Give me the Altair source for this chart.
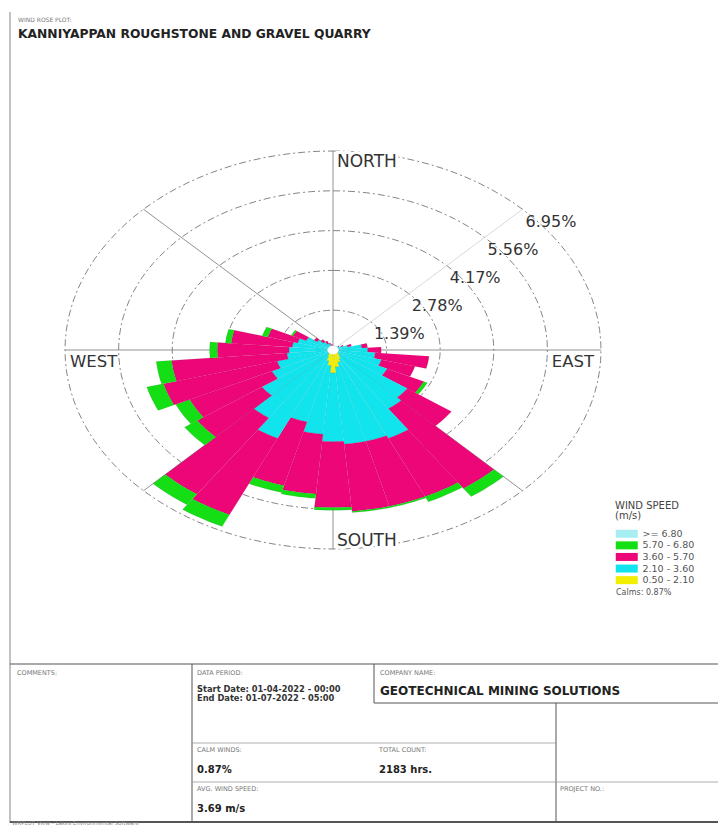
import altair as alt
import pandas as pd

# ---------------- data (percent of time) ----------------
directions = [0, 10, 20, 30, 40, 50, 60, 70, 80, 90, 100, 110, 120, 130, 140, 150, 160, 170,
              180, 190, 200, 210, 220, 230, 240, 250, 260, 270, 280, 290, 300, 310, 320, 330, 340, 350]

speed_classes = [">= 6.80", "5.70 - 6.80", "3.60 - 5.70", "2.10 - 3.60", "0.50 - 2.10"]

freq_050_210 = [0.03, 0.03, 0.03, 0.03, 0.04, 0.05, 0.05, 0.06, 0.08, 0.10,
                0.12, 0.12, 0.15, 0.18, 0.25, 0.35, 0.45, 0.60, 0.80, 0.55,
                0.40, 0.25, 0.18, 0.12, 0.10, 0.08, 0.07, 0.06, 0.05, 0.05,
                0.04, 0.04, 0.03, 0.03, 0.03, 0.03]
freq_210_360 = [0.12, 0.11, 0.09, 0.12, 0.11, 0.13, 0.20, 0.34, 0.67, 0.80,
                0.98, 1.18, 1.40, 2.17, 2.25, 3.05, 2.85, 2.70, 2.40, 2.40,
                2.20, 3.15, 2.72, 2.13, 1.65, 1.42, 1.13, 1.08, 1.01, 0.90,
                0.73, 0.46, 0.32, 0.22, 0.17, 0.12]
freq_360_570 = [0.00, 0.01, 0.00, 0.00, 0.00, 0.02, 0.05, 0.10, 0.15, 0.35,
                1.40, 0.90, 1.05, 1.40, 3.40, 2.25, 2.35, 2.35, 2.30, 2.10,
                2.30, 2.95, 3.25, 2.05, 2.35, 3.05, 3.00, 1.86, 1.59, 0.80,
                0.38, 0.10, 0.10, 0.10, 0.05, 0.05]
freq_570_680 = [0.00, 0.00, 0.00, 0.00, 0.00, 0.00, 0.00, 0.00, 0.00, 0.00,
                0.00, 0.00, 0.10, 0.00, 0.35, 0.20, 0.05, 0.05, 0.10, 0.15,
                0.25, 0.45, 0.45, 0.40, 0.40, 0.45, 0.40, 0.20, 0.15, 0.15,
                0.05, 0.00, 0.00, 0.00, 0.00, 0.00]
freq_680_up = [0.00, 0.00, 0.00, 0.00, 0.00, 0.00, 0.00, 0.00, 0.00, 0.00,
               0.00, 0.00, 0.00, 0.00, 0.00, 0.00, 0.00, 0.00, 0.00, 0.00,
               0.00, 0.00, 0.00, 0.00, 0.00, 0.00, 0.00, 0.00, 0.00, 0.00,
               0.00, 0.00, 0.00, 0.00, 0.00, 0.00]

ring_values = [1.39, 2.78, 4.17, 5.56, 6.95]
ring_labels = ["1.39%", "2.78%", "4.17%", "5.56%", "6.95%"]
compass_labels = ["NORTH", "EAST", "SOUTH", "WEST"]
compass_angles = [0, 90, 180, 270]
spoke_angles = [0, 45, 90, 135, 180, 225, 270, 315]

# ---------------- style / layout ----------------
FONT = "DejaVu Sans"
W, H = 710, 811
CX, CY = 333 - 8, 350 - 8
KX = 268 / 6.95
KY = 199 / 6.95
SECTOR = 10
K = 6
HOLE = 0.14
speed_colors = ["#A6EEF2", "#14DF14", "#EC0677", "#12E4EE", "#F2EE00"]

xs = alt.Scale(domain=[-CX / KX, (W - CX) / KX], nice=False, zero=False)
ys = alt.Scale(domain=[-(H - CY) / KY, CY / KY], nice=False, zero=False)
X = alt.X("px:Q", scale=xs, axis=None)
Y = alt.Y("py:Q", scale=ys, axis=None)

# ---------------- geometry tables (built from the data) ----------------
stack = [("0.50 - 2.10", freq_050_210), ("2.10 - 3.60", freq_210_360),
         ("3.60 - 5.70", freq_360_570), ("5.70 - 6.80", freq_570_680),
         (">= 6.80", freq_680_up)]
seg_rows = []
for i, d in enumerate(directions):
    base = 0.0
    for cls, fr in stack:
        f = fr[i]
        if f > 0:
            for vi in range(2 * K + 2):
                seg_rows.append({"seg": f"{d}|{cls}", "dir": d, "speed": cls,
                                 "r0": base, "r1": base + f, "vi": vi})
            base += f
bars_df = pd.DataFrame(seg_rows)

ring_df = pd.DataFrame([{"ring": v, "step": s} for v in ring_values for s in range(121)])
hole_df = pd.DataFrame([{"ring": HOLE, "step": s} for s in range(61)])
spoke_df = pd.DataFrame([{"angle": a, "r": r} for a in spoke_angles for r in (0.0, ring_values[-1])])
compass_df = pd.DataFrame({"label": compass_labels, "angle": compass_angles, "r": ring_values[-1]})
rlab_df = pd.DataFrame({"ring": ring_values, "label": ring_labels})


def polar(chart, r_field, a_expr):
    return chart.transform_calculate(ang=f"({a_expr}) * PI / 180").transform_calculate(
        px=f"datum.{r_field} * sin(datum.ang)", py=f"datum.{r_field} * cos(datum.ang)")


# grid rings
rings = polar(alt.Chart(ring_df), "ring", "datum.step * 3").mark_line(
    color="#666", strokeWidth=0.8, strokeDash=[7, 3, 2, 3]).encode(
    x=X, y=Y, detail="ring:N", order="step:Q")

spokes = polar(alt.Chart(spoke_df), "r", "datum.angle").mark_line(strokeWidth=0.8).encode(
    x=X, y=Y, detail="angle:N",
    color=alt.condition(alt.datum.angle == 45, alt.value("#cfcfcf"), alt.value("#777777")))

# bars
bars = alt.Chart(bars_df).transform_calculate(
    idx=f"datum.vi <= {K} ? datum.vi : {2 * K + 1} - datum.vi"
).transform_calculate(
    rr=f"datum.vi <= {K} ? datum.r1 : datum.r0"
)
bars = polar(bars, "rr", f"datum.dir - {SECTOR / 2} + {SECTOR} * datum.idx / {K}").mark_line(
    filled=True, stroke="#222", strokeWidth=0.4, strokeOpacity=0.25).encode(
    x=X, y=Y, detail="seg:N", order="vi:Q",
    color=alt.Color("speed:N", scale=alt.Scale(domain=speed_classes, range=speed_colors),
                    legend=alt.Legend(
                        orient="none", legendX=607, legendY=493,
                        title=["WIND SPEED", "(m/s)"], titleFont=FONT, titleFontSize=10,
                        titleFontWeight="normal", titleColor="#444", titleLineHeight=10,
                        titlePadding=8, labelFont=FONT, labelFontSize=9.5, labelColor="#555",
                        labelOffset=11, symbolType="M-2.75,-1H2.75V1H-2.75Z", symbolSize=64,
                        symbolStrokeWidth=0, symbolOffset=7, rowPadding=0.6, padding=0)))

hole = polar(alt.Chart(hole_df), "ring", "datum.step * 6").mark_line(
    filled=True, fill="white", stroke="white", strokeWidth=0.5).encode(x=X, y=Y, order="step:Q")

# compass labels
cbase = polar(alt.Chart(compass_df), "r", "datum.angle")


def clabel(name, align, dx, dy, halo, size):
    c = cbase.transform_filter(alt.datum.label == name)
    layers = []
    if halo:
        layers.append(c.mark_text(align=align, baseline="middle", dx=dx, dy=dy, font=FONT,
                                  fontSize=size, stroke="white", strokeWidth=6, color="white").encode(
            x=X, y=Y, text="label:N"))
    layers.append(c.mark_text(align=align, baseline="middle", dx=dx, dy=dy, font=FONT,
                              fontSize=size, color="#333").encode(x=X, y=Y, text="label:N"))
    return layers


compass_layers = (clabel("NORTH", "left", 4, 11, True, 17) + clabel("SOUTH", "left", 4, -8, True, 17)
                  + clabel("WEST", "left", 5, 12, False, 16.5) + clabel("EAST", "right", -7, 12, False, 16.5))

ring_text = polar(alt.Chart(rlab_df), "ring", "45").mark_text(
    align="left", baseline="middle", dx=3, dy=12.5, font=FONT, fontSize=16, color="#333").encode(
    x=X, y=Y, text="label:N")


# ---------------- page furniture ----------------
def txt(s, x, y, size, bold=False, color="#222"):
    return alt.Chart(pd.DataFrame({"s": [s]})).mark_text(
        align="left", baseline="alphabetic", font=FONT, fontSize=size,
        fontWeight="bold" if bold else "normal", color=color).encode(
        x=alt.value(x - 8), y=alt.value(y - 8), text="s:N")


def rule(x1, y1, x2, y2, w=1.0, color="#555"):
    return alt.Chart(pd.DataFrame({"a": [0]})).mark_rule(color=color, strokeWidth=w).encode(
        x=alt.value(x1 - 8), x2=alt.value(x2 - 8), y=alt.value(y1 - 8), y2=alt.value(y2 - 8))


furniture = [
    txt("WIND ROSE PLOT:", 18, 22, 6, color="#777"),
    txt("KANNIYAPPAN ROUGHSTONE AND GRAVEL QUARRY", 18, 38, 12.3, bold=True),
    txt("Calms: 0.87%", 616, 595, 8, color="#555"),
    rule(10, 12, 10, 823, 1.2, "#999"),
    rule(10, 664, 726, 664, 1.2),
    rule(192, 664, 192, 823),
    rule(374, 664, 374, 703),
    rule(374, 703, 726, 703),
    rule(556, 703, 556, 823),
    rule(192, 743, 556, 743, 0.8, "#999"),
    rule(192, 782, 726, 782, 0.8, "#999"),
    rule(10, 822, 726, 822, 2.0),
    txt("COMMENTS:", 17, 675, 6.5, color="#777"),
    txt("DATA PERIOD:", 197, 675, 6.5, color="#777"),
    txt("COMPANY NAME:", 380, 675, 6.5, color="#777"),
    txt("Start Date: 01-04-2022 - 00:00", 197, 692, 8.3, bold=True, color="#333"),
    txt("End Date: 01-07-2022 - 05:00", 197, 701, 8.3, bold=True, color="#333"),
    txt("GEOTECHNICAL MINING SOLUTIONS", 380, 695, 12, bold=True),
    txt("CALM WINDS:", 197, 752, 6.5, color="#777"),
    txt("TOTAL COUNT:", 379, 752, 6.5, color="#777"),
    txt("0.87%", 197, 773, 10, bold=True),
    txt("2183 hrs.", 379, 773, 10, bold=True),
    txt("AVG. WIND SPEED:", 197, 791, 6.5, color="#777"),
    txt("PROJECT NO.:", 560, 791, 6.5, color="#777"),
    txt("3.69 m/s", 197, 812, 10, bold=True),
    txt("WRPLOT View - Lakes Environmental Software", 12, 825, 5.5, color="#888"),
]

chart = alt.layer(
    rings, spokes, bars, hole, ring_text, *compass_layers, *furniture
).properties(
    width=W, height=H, background="white",
    view=alt.ViewBackground(stroke=None, fill=None, strokeWidth=0),
    padding={"left": 0, "top": 0, "right": 0, "bottom": 8},
    autosize=alt.AutoSizeParams(type="none")
).configure_view(stroke=None, strokeWidth=0)

chart.save("out.html", embed_options={"renderer": "svg", "actions": False})
